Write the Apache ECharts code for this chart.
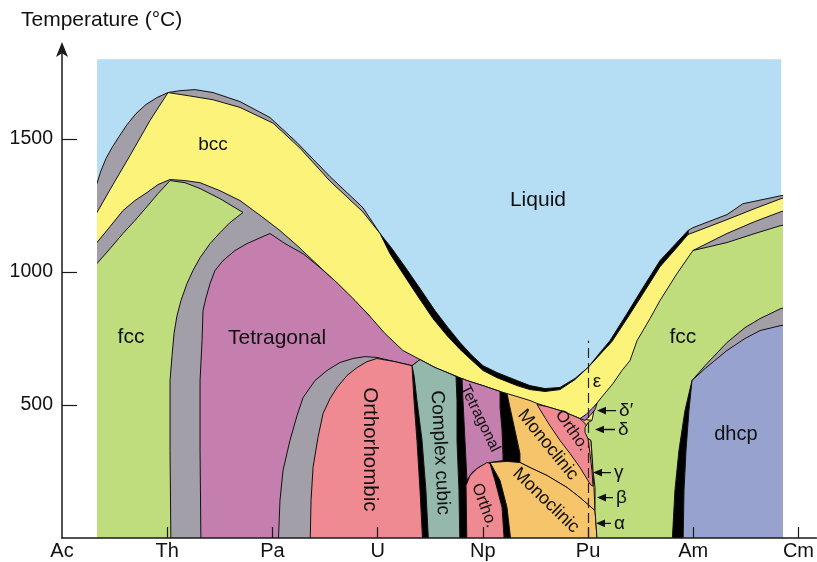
<!DOCTYPE html>
<html><head><meta charset="utf-8">
<script src="https://cdn.jsdelivr.net/npm/echarts@6/dist/echarts.min.js"></script>
<style>html,body{margin:0;padding:0;background:#fff}#c{width:817px;height:562px}</style>
</head><body><div id="c"></div>
<script>
// ---------- DATA (x = position along the actinide row, 0 = Ac ... 7 = Cm; y = temperature in °C) ----------
const elements = ['Ac','Th','Pa','U','Np','Pu','Am','Cm'];
const tempTicks = [500,1000,1500];
const plotRangeX = [0.333, 6.83];
const plotRangeT = [0, 1800];

const grayTopLeft = [[0.25,1295],[0.332,1333],[0.370,1381],[0.418,1427],[0.475,1468],[0.541,1509],[0.617,1554],[0.703,1596],[0.798,1630],[0.902,1656],[1.007,1675],[1.121,1682],[1.263,1686],[1.434,1675],[1.69,1641],[1.975,1581],[2.232,1487],[2.545,1359],[2.858,1242],[3.02,1145],[3.02,-50],[0.25,-50]];
const grayTopRight = [[5.945,1156],[5.992,1167],[6.315,1216],[6.467,1257],[6.828,1287],[6.95,1295],[6.95,-50],[5.945,-50]];
const liquidBlack = [[3.02,1145],[3.134,1088],[3.257,1020],[3.40,938],[3.542,855],[3.666,791],[3.78,735],[3.894,686],[3.998,648],[4.131,622],[4.321,592],[4.444,573],[4.587,562],[4.729,566],[4.872,600],[4.995,641],[5.109,697],[5.204,742],[5.366,844],[5.518,942],[5.679,1043],[5.945,1156],[5.945,-50],[3.02,-50]];
const bccEps = [[0.25,1163],[0.332,1224],[0.484,1329],[0.646,1438],[0.836,1570],[1.007,1675],[1.216,1662],[1.434,1648],[1.69,1619],[2.004,1560],[2.26,1466],[2.545,1342],[2.858,1226],[3.02,1145],[3.115,1069],[3.238,994],[3.381,908],[3.523,825],[3.656,761],[3.78,709],[3.894,667],[3.998,630],[4.131,603],[4.321,573],[4.444,558],[4.587,551],[4.729,558],[4.872,596],[4.995,641],[5.109,690],[5.223,739],[5.366,825],[5.518,919],[5.679,1020],[5.821,1084],[5.945,1141],[6.315,1197],[6.581,1239],[6.828,1276],[6.95,1290],[6.95,-50],[0.25,-50]];
const grayMid = [[0.25,1070],[0.332,1111],[0.456,1171],[0.579,1231],[0.693,1269],[0.807,1299],[0.912,1329],[1.026,1348],[1.168,1344],[1.311,1336],[1.5,1306],[1.69,1269],[1.909,1205],[2.07,1156],[2.232,1100],[2.384,1043],[2.545,983],[2.707,919],[2.925,833],[2.925,-50],[0.25,-50]];
const grayRightBand = [[5.992,1081],[6.315,1145],[6.581,1190],[6.828,1227],[6.95,1240],[6.95,-50],[5.992,-50]];
const fccTh = [[0.25,998],[0.332,1032],[0.456,1088],[0.579,1145],[0.693,1194],[0.807,1246],[0.912,1295],[1.026,1344],[1.168,1336],[1.311,1314],[1.5,1276],[1.719,1224],[1.595,1186],[1.5,1148],[1.406,1107],[1.311,1054],[1.244,1006],[1.187,957],[1.13,893],[1.092,836],[1.064,769],[1.045,686],[1.026,592],[1.026,329],[1.035,-50],[0.25,-50]];
const tetPa = [[1.975,1145],[2.118,1107],[2.289,1069],[2.45,1017],[2.612,960],[2.783,893],[2.925,833],[3.067,769],[3.238,705],[3.40,671],[3.40,-50],[1.32,-50],[1.311,329],[1.311,592],[1.33,742],[1.339,855],[1.368,904],[1.406,957],[1.453,1006],[1.529,1043],[1.643,1081],[1.757,1107]];
const grayArcU = [[2.051,-50],[2.07,141],[2.099,254],[2.165,367],[2.232,460],[2.289,528],[2.403,592],[2.517,630],[2.64,660],[2.764,675],[2.877,682],[2.991,679],[3.162,663],[3.324,648],[3.343,517],[3.371,367],[3.40,179],[3.43,-50]];
const blackNp = [[3.324,648],[3.40,671],[3.542,641],[3.685,618],[3.846,592],[3.998,573],[4.16,551],[4.226,543],[4.254,491],[4.302,404],[4.349,318],[4.378,284],[4.30,-50],[3.43,-50],[3.40,179],[3.371,367],[3.343,517]];
const orthoU = [[2.355,-50],[2.365,141],[2.384,265],[2.431,378],[2.479,468],[2.545,524],[2.612,566],[2.707,611],[2.802,641],[2.896,663],[2.991,675],[3.162,663],[3.324,648],[3.343,517],[3.371,367],[3.40,179],[3.43,-50]];
const cubicU = [[3.324,648],[3.40,671],[3.542,641],[3.685,618],[3.742,607],[3.751,517],[3.751,367],[3.77,179],[3.78,-50],[3.485,-50],[3.456,179],[3.419,367],[3.371,517],[3.343,611]];
const tetNp = [[3.799,600],[3.846,592],[3.998,573],[4.16,551],[4.16,491],[4.179,404],[4.188,310],[4.188,291],[4.065,284],[3.97,269],[3.894,246],[3.846,216],[3.827,367],[3.808,517]];
const orthoNp = [[3.846,-50],[3.837,198],[3.875,235],[3.941,261],[4.036,284],[4.065,280],[4.112,216],[4.179,115],[4.207,-50]];
const monoUpper = [[4.226,543],[4.321,532],[4.444,517],[4.511,506],[4.606,494],[4.758,476],[4.919,449],[5.033,442],[5.024,367],[5.033,310],[5.043,254],[5.052,190],[5.062,103],[4.919,152],[4.796,190],[4.606,235],[4.444,265],[4.349,284],[4.349,318],[4.302,404],[4.254,491]];
const monoLower = [[4.065,284],[4.226,288],[4.349,284],[4.444,265],[4.606,235],[4.796,190],[4.919,152],[5.062,103],[5.09,-50],[4.274,-50],[4.226,115],[4.16,216]];
const orthoPu = [[4.511,502],[4.606,494],[4.758,476],[4.919,449],[4.976,427],[4.995,378],[5.014,318],[5.033,254],[5.043,195],[5.02,200],[4.919,265],[4.824,318],[4.729,367],[4.615,434]];
const fccAm = [[5.09,-50],[5.062,103],[5.062,190],[5.043,254],[5.033,318],[5.024,367],[4.995,374],[4.967,397],[4.967,415],[4.995,434],[5.033,442],[5.062,498],[5.138,536],[5.233,581],[5.318,630],[5.394,667],[5.461,742],[5.584,825],[5.679,893],[5.84,994],[5.992,1081],[6.154,1096],[6.315,1111],[6.581,1145],[6.828,1175],[6.95,1182],[6.95,-50]];
const deltaPrime = [[4.919,449],[4.976,464],[5.033,487],[5.081,506],[5.062,483],[5.014,460],[4.967,442]];
const grayDhcp = [[5.983,592],[6.106,648],[6.315,735],[6.486,791],[6.629,825],[6.828,863],[6.95,870],[6.95,-50],[5.983,-50]];
const blackAm = [[5.983,592],[5.916,479],[5.859,329],[5.821,179],[5.79,-50],[5.99,-50]];
const dhcpCm = [[5.983,592],[6.106,637],[6.315,705],[6.486,750],[6.629,780],[6.828,799],[6.95,805],[6.95,-50],[5.897,-50],[5.907,179],[5.926,329],[5.954,479]];

// Pu phase marker line and arrows: [tip x, tail x, temperature]
const puLine = [[5.0,0],[5.0,742]];
const puArrows = [[5.081,5.262,479],[5.062,5.252,408],[5.043,5.214,246],[5.081,5.233,152],[5.071,5.214,55]];
const puPhaseNames = ['δ′','δ','γ','β','α'];

// region labels: [text, x, temperature]
const regionLabels = [
  ['bcc',1.434,1480],['Liquid',4.52,1269],['fcc',0.655,754],['Tetragonal',2.042,750],
  ['Orthorhombic',2.925,333],['Complex cubic',3.59,321],['Tetragonal',3.97,450],['Ortho.',4.008,122],
  ['Monoclinic',4.615,350],['Monoclinic',4.596,141],['Ortho.',4.843,404],['ε',5.081,588],
  ['fcc',5.897,754],['dhcp',6.40,389]
];

// ---------- STYLE ----------
const COL = {liquid:'#b5ddf4', bcc:'#fcf47a', gray:'#a39fa8', fcc:'#bfdd7d', tet:'#c47fae', ortho:'#ef8a92',
  cubic:'#95b8ac', mono:'#f6c46b', dhcp:'#97a3ce', black:'#000000', dprime:'#b07ec2'};
const layers = [
  [grayTopLeft,COL.gray],[grayTopRight,COL.gray],[liquidBlack,COL.black],[bccEps,COL.bcc],[grayMid,COL.gray],
  [grayRightBand,COL.gray],[fccTh,COL.fcc],[tetPa,COL.tet],[grayArcU,COL.gray],[blackNp,COL.black],[orthoU,COL.ortho],
  [cubicU,COL.cubic],[tetNp,COL.tet],[orthoNp,COL.ortho],[monoUpper,COL.mono],[monoLower,COL.mono],[orthoPu,COL.ortho],
  [fccAm,COL.fcc],[deltaPrime,COL.dprime],[grayDhcp,COL.gray],[blackAm,COL.black],[dhcpCm,COL.dhcp]
];
const labelStyle = [[0,19],[0,21],[0,21],[0,21],[-90,20.5],[-87,19],[-64,15.5],[-70,16.5],[-51,18],[-44,18],[-55,16.5],[0,19],[0,21],[0,20]];
const FONT = '"Liberation Sans", Arial, Helvetica, sans-serif';

const W = 817, H = 562, AX_LEFT = 62, AX_BOTTOM = 24, AX_TOP = 46;
const X_AXIS_MAX = 7.17, Y_AXIS_MAX = 1850;
const xUnit = (W - AX_LEFT) / X_AXIS_MAX;
const yUnit = (H - AX_BOTTOM - AX_TOP) / Y_AXIS_MAX;
const g1Left = AX_LEFT + plotRangeX[0]*xUnit;
const g1Right = W - (AX_LEFT + plotRangeX[1]*xUnit);
const g1Top = H - AX_BOTTOM - plotRangeT[1]*yUnit;

const chart = echarts.init(document.getElementById('c'));
chart.setOption({
  animation:false,
  backgroundColor:'#ffffff',
  textStyle:{fontFamily:FONT},
  graphic:[{type:'text', left:21, top:10, style:{text:'Temperature (°C)', fontSize:21, fontFamily:FONT, fill:'#111'}}],
  grid:[
    {left:AX_LEFT, right:0, top:AX_TOP, bottom:AX_BOTTOM},
    {left:g1Left, right:g1Right, top:g1Top, bottom:AX_BOTTOM, show:true, backgroundColor:COL.liquid, borderWidth:0, borderColor:'transparent'}
  ],
  xAxis:[
    {gridIndex:0, type:'value', min:0, max:X_AXIS_MAX, z:10,
     axisLine:{lineStyle:{color:'#1a1a1a', width:1.5}},
     axisTick:{inside:true, length:11, customValues:[1,2,3,4,5,6,7], lineStyle:{color:'#1a1a1a', width:1.2}},
     axisLabel:{customValues:[0,1,2,3,4,5,6,7], formatter:v=>elements[Math.round(v)], fontSize:20, color:'#111', margin:3, fontFamily:FONT},
     splitLine:{show:false}},
    {gridIndex:1, type:'value', min:plotRangeX[0], max:plotRangeX[1], show:false}
  ],
  yAxis:[
    {gridIndex:0, type:'value', min:0, max:Y_AXIS_MAX, z:10,
     axisLine:{show:true, symbol:['none','arrow'], symbolSize:[9,15], symbolOffset:[0,4], lineStyle:{color:'#1a1a1a', width:1.5}},
     axisTick:{show:true, inside:true, length:15, customValues:tempTicks, lineStyle:{color:'#1a1a1a', width:1.2}},
     axisLabel:{customValues:tempTicks, formatter:v=>String(v), fontSize:19.5, color:'#111', margin:9, fontFamily:FONT},
     splitLine:{show:false}},
    {gridIndex:1, type:'value', min:plotRangeT[0], max:plotRangeT[1], show:false}
  ],
  series:[
    {type:'custom', xAxisIndex:1, yAxisIndex:1, clip:true, silent:true,
     data: layers.map((l,i)=>[i]),
     renderItem:(p, api)=>{
       const L = layers[api.value(0)];
       return {type:'polygon', shape:{points:L[0].map(pt=>api.coord(pt))},
               style:{fill:L[1], stroke:'#111', lineWidth:1, lineJoin:'round'}};
     }},
    {type:'custom', xAxisIndex:1, yAxisIndex:1, clip:true, silent:true,
     data: [[-1]].concat(puArrows.map((a,i)=>[i])),
     renderItem:(p, api)=>{
       const i = api.value(0);
       if (i < 0) {
         const a = api.coord(puLine[0]), b = api.coord(puLine[1]);
         return {type:'line', shape:{x1:a[0],y1:a[1],x2:b[0],y2:b[1]}, style:{stroke:'#222', lineWidth:1.2, lineDash:[10,5]}};
       }
       const ar = puArrows[i];
       const tip = api.coord([ar[0], ar[2]]), tail = api.coord([ar[1], ar[2]]);
       return {type:'group', children:[
         {type:'line', shape:{x1:tail[0],y1:tail[1],x2:tip[0]+6,y2:tip[1]}, style:{stroke:'#111', lineWidth:1.4}},
         {type:'polygon', shape:{points:[[tip[0],tip[1]],[tip[0]+9,tip[1]-3.8],[tip[0]+9,tip[1]+3.8]]}, style:{fill:'#111'}},
         {type:'text', x:tail[0]+3, y:tip[1], style:{text:puPhaseNames[i], fontSize:19, fontFamily:FONT, fill:'#111', align:'left', verticalAlign:'middle'}}
       ]};
     }},
    {type:'custom', xAxisIndex:1, yAxisIndex:1, clip:false, silent:true,
     data: regionLabels.map((l,i)=>[i]),
     renderItem:(p, api)=>{
       const i = api.value(0), L = regionLabels[i], S = labelStyle[i];
       const c = api.coord([L[1], L[2]]);
       return {type:'text', x:c[0], y:c[1], rotation:S[0]*Math.PI/180,
               style:{text:L[0], fontSize:S[1], fontFamily:FONT, fill:'#111', align:'center', verticalAlign:'middle'}};
     }}
  ]
});
</script>
</body></html>
